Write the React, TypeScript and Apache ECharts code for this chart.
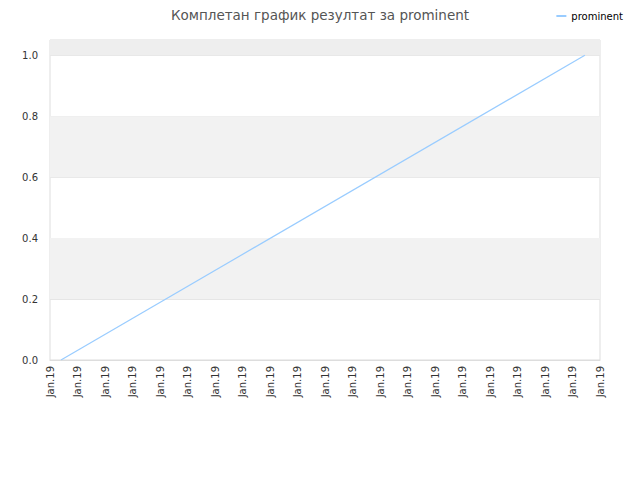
import React, { useEffect, useRef } from "react";
import * as echarts from "echarts";

const title = "Комплетан график резултат за prominent";
const seriesName = "prominent";
const xTickLabels = Array.from({ length: 21 }, () => "Jan.19");
const xPositions = [0.4, 19.45];
const yValues = [0, 1];
const bandRanges: [number, number, string][] = [
  [0.2, 0.4, "#f2f2f2"],
  [0.6, 0.8, "#f2f2f2"],
  [1.0, 1.05, "#eeeeee"],
];

export default function App() {
  const ref = useRef<HTMLDivElement>(null);
  useEffect(() => {
    const chart = echarts.init(ref.current!, null, { renderer: "svg" });
    chart.setOption({
      animation: false,
      textStyle: { fontFamily: "DejaVu Sans" },
      title: {
        text: title,
        left: "center",
        top: 3,
        textStyle: { fontSize: 13.5, fontWeight: "normal", color: "#555", fontFamily: "DejaVu Sans" },
      },
      legend: {
        right: 12,
        top: 6,
        icon: "rect",
        itemWidth: 10,
        itemHeight: 2,
        itemGap: 6,
        textStyle: { fontSize: 10, color: "#000", fontFamily: "DejaVu Sans" },
        data: [seriesName],
      },
      grid: {
        left: 50,
        right: 40,
        top: 40,
        bottom: 120,
        show: true,
        borderColor: "#dddddd",
        borderWidth: 1,
      },
      xAxis: {
        type: "value",
        min: 0,
        max: 20,
        interval: 1,
        axisLine: { show: true, lineStyle: { color: "#dddddd" } },
        axisTick: { show: false },
        splitLine: { show: false },
        axisLabel: {
          rotate: 90,
          fontSize: 10,
          color: "#333",
          margin: 6,
          showMinLabel: true,
          showMaxLabel: true,
          formatter: (v: number) => xTickLabels[Math.round(v)] ?? "",
        },
      },
      yAxis: {
        type: "value",
        min: 0,
        max: 1.05,
        interval: 0.2,
        axisLine: { show: false },
        axisTick: { show: false },
        splitLine: { show: true, lineStyle: { color: "#e6e6e6" } },
        axisLabel: {
          fontSize: 10,
          color: "#333",
          margin: 12,
          formatter: (v: number) => (v > 1.01 ? "" : v.toFixed(1)),
        },
      },
      series: [
        {
          name: seriesName,
          type: "line",
          data: xPositions.map((x, i) => [x, yValues[i]]),
          showSymbol: false,
          symbol: "none",
          lineStyle: { color: "#99ccff", width: 1.2 },
          itemStyle: { color: "#99ccff" },
          markArea: {
            silent: true,
            itemStyle: { color: "#f2f2f2" },
            data: bandRanges.map(([a, b, c]) => [
              { yAxis: a, itemStyle: { color: c } },
              { yAxis: b },
            ]),
          },
        },
      ],
    });
    return () => chart.dispose();
  }, []);
  return <div ref={ref} style={{ width: 640, height: 480, position: "absolute", left: 0, top: 0 }} />;
}
